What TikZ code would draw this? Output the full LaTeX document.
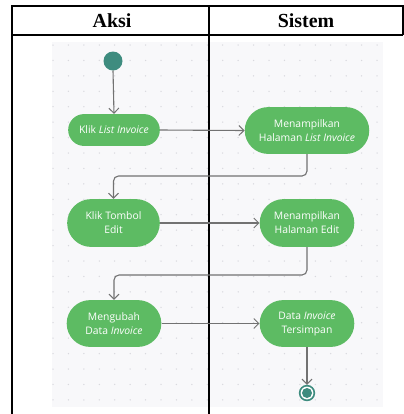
\documentclass[tikz,border=0pt]{standalone}
\usepackage{fontspec}
\setmainfont{Liberation Serif}
\newfontfamily\nodefont{Open Sans}
\usetikzlibrary{arrows.meta}

\definecolor{actgreen}{HTML}{5DBB63}
\definecolor{teal}{HTML}{3E8C7F}
\definecolor{canvas}{HTML}{F8F8FA}
\definecolor{dotgray}{HTML}{D9D9DE}
\definecolor{flowgray}{HTML}{727272}

\tikzset{
  act/.style={draw=none, fill=actgreen, text=white, align=center,
    font=\nodefont\fontsize{10.4}{14}\selectfont, inner sep=0pt},
  flow/.style={draw=flowgray, line width=1.1bp,
    -{Straight Barb[length=5bp,width=10bp,line width=1bp]}},
  grid line/.style={draw=black, line width=1.1bp},
  head/.style={font=\bfseries\fontsize{20}{22}\selectfont}
}

\begin{document}
\begin{tikzpicture}[x=1bp,y=-1bp]
  \useasboundingbox (0,0) rectangle (404,414);

  % dotted canvas
  \fill[canvas] (52,42) rectangle (383,407);
  \foreach \i in {0,...,21} {
    \foreach \j in {0,...,23} {
      \fill[dotgray] ({53+15.43*\i},{45+15.43*\j}) circle (0.75);
    }
  }

  % swimlane table
  \draw[grid line] (12,414) -- (12,6) -- (403,6) -- (403,35);
  \draw[grid line] (12,35) -- (403,35);
  \draw[grid line] (209,6) -- (209,414);
  \node[head] (hA) at (112,21) {Aksi};
  \node[head] (hS) at (306,21) {Sistem};

  % start and end
  \fill[teal] (113,61) circle (9.5);
  \coordinate (start) at (113,70.5);

  \fill[teal] (307,393) circle (8.2);
  \fill[white] (307,393) circle (6.4);
  \fill[teal] (307,393) circle (5.0);
  \coordinate (end) at (307,384.8);

  % activities
  \node[act, minimum width=92, minimum height=32, rounded corners=16] (n1) at (114,130)
    {Klik \textit{List Invoice}};
  \node[act, minimum width=125, minimum height=47, rounded corners=23.5] (n2) at (307,130.5)
    {Menampilkan\\Halaman \textit{List Invoice}};
  \node[act, minimum width=93, minimum height=48, rounded corners=24] (n3) at (113.5,223)
    {Klik Tombol\\Edit};
  \node[act, minimum width=95, minimum height=48, rounded corners=24] (n4) at (307,223)
    {Menampilkan\\Halaman Edit};
  \node[act, minimum width=95, minimum height=47, rounded corners=23.5] (n5) at (114,323.5)
    {Mengubah\\Data \textit{Invoice}};
  \node[act, minimum width=95, minimum height=47, rounded corners=23.5] (n6) at (307,323.5)
    {Data \textit{Invoice}\\Tersimpan};

  % bends between the lanes
  \coordinate (b1) at (209,176);
  \coordinate (b2) at (209,275);

  % flows
  \draw[flow] (start) -- (n1.north);
  \draw[flow] (n1.east) -- (n2.west);
  \draw[flow, rounded corners=5] (n2.south) |- (b1) -| (n3.north);
  \draw[flow] (n3.east) -- (n4.west);
  \draw[flow, rounded corners=5] (n4.south) |- (b2) -| (n5.north);
  \draw[flow] (n5.east) -- (n6.west);
  \draw[flow] (n6.south) -- (end);
\end{tikzpicture}
\end{document}
